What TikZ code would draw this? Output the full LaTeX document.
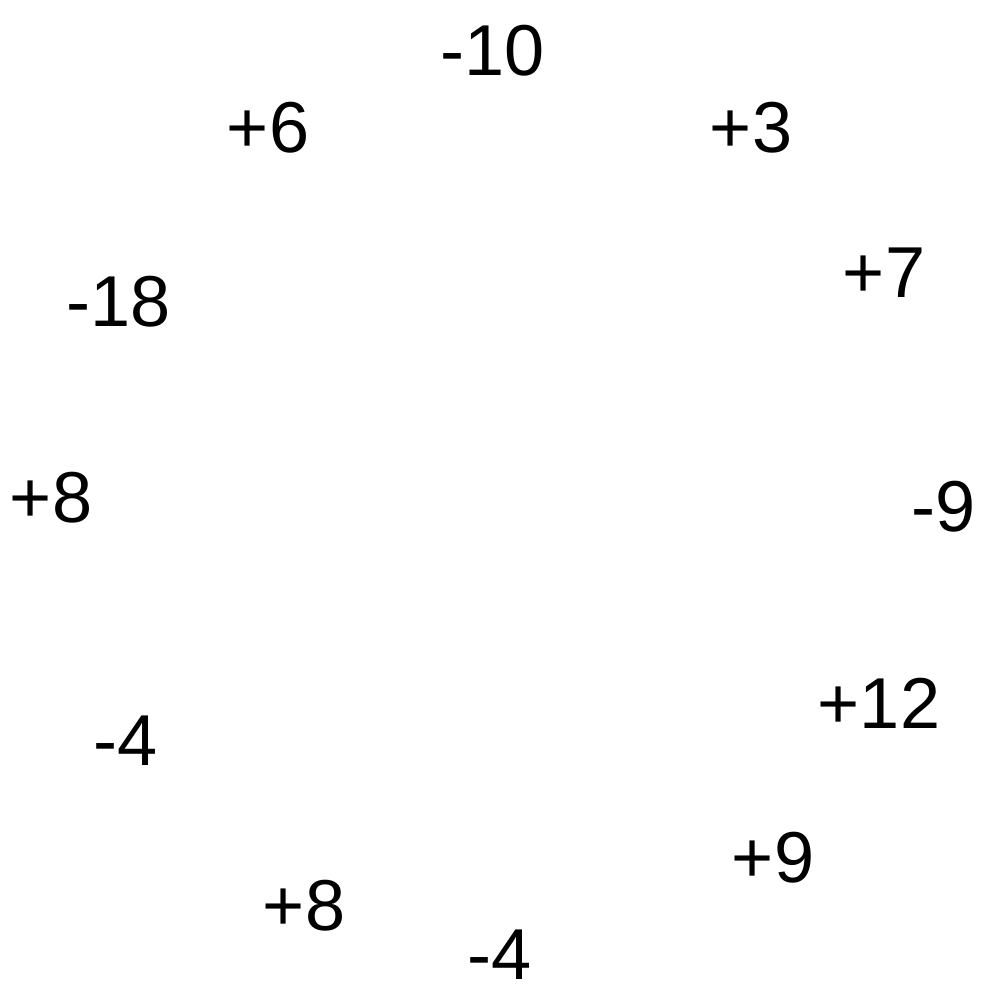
\documentclass[tikz,border=0pt]{standalone}
\usepackage{fontspec}
\setmainfont{Liberation Sans}
\begin{document}
\begin{tikzpicture}[x=0.01cm,y=-0.01cm,
  lbl/.style={anchor=base,inner sep=0pt,font=\fontsize{20.5}{24}\selectfont}]
\useasboundingbox (0,0) rectangle (1000,1000);
\node[lbl] (n1) at (493,75) {-10};
\node[lbl] (n2) at (751,152) {+3};
\node[lbl] (n3) at (884,297) {+7};
\node[lbl] (n4) at (944,531) {-9};
\node[lbl] (n5) at (879,728) {+12};
\node[lbl] (n6) at (773,882) {+9};
\node[lbl] (n7) at (500,979) {-4};
\node[lbl] (n8) at (304,930) {+8};
\node[lbl] (n9) at (126,765) {-4};
\node[lbl] (n10) at (51,522) {+8};
\node[lbl] (n11) at (119,326) {-18};
\node[lbl] (n12) at (268,152) {+6};
\end{tikzpicture}
\end{document}
